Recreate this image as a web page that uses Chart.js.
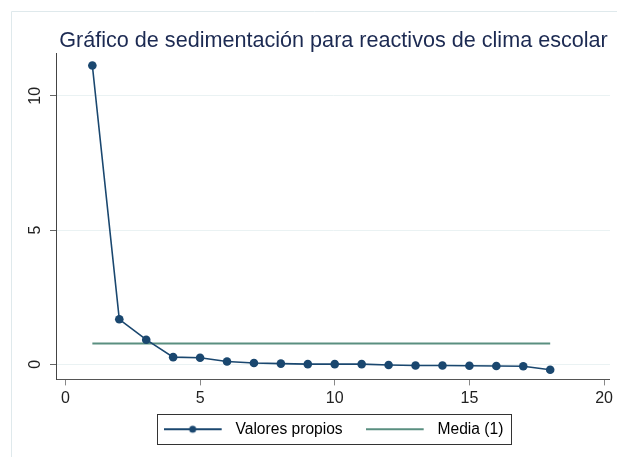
<!DOCTYPE html>
<html>
<head>
<meta charset="utf-8">
<script src="https://cdn.jsdelivr.net/npm/chart.js@4.4.0/dist/chart.umd.min.js"></script>
<style>
  html, body { margin: 0; padding: 0; background: #fff; }
</style>
</head>
<body>
<canvas id="scree" width="617" height="457"></canvas>
<script>
// data
const components = [1, 2, 3, 4, 5, 6, 7, 8, 9, 10, 11, 12, 13, 14, 15, 16, 17, 18];
const eigenvalues = [11.13, 1.68, 0.92, 0.27, 0.25, 0.11, 0.05, 0.03, 0.01, 0.01, 0.01, -0.02, -0.04, -0.04, -0.05, -0.06, -0.07, -0.2];
const meanX = [1, 18];
const meanY = [0.78, 0.78];
const xTicks = [0, 5, 10, 15, 20];
const yTicks = [0, 5, 10];

const NAVY = '#1a476f';
const TEAL = '#5a8f80';
const FONT = "'Liberation Sans', Arial, sans-serif";

// little canvases used as legend symbols
function legend_symbol(color, withDot) {
  const c = document.createElement('canvas');
  c.width = 64;
  c.height = 10;
  const g = c.getContext('2d');
  g.strokeStyle = color;
  g.lineWidth = 2;
  g.beginPath();
  g.moveTo(0, 5);
  g.lineTo(58, 5);
  g.stroke();
  if (withDot) {
    g.fillStyle = color;
    g.beginPath();
    g.arc(29, 5, 3.5, 0, Math.PI * 2);
    g.fill();
  }
  return c;
}
const symEigen = legend_symbol(NAVY, true);
const symMean = legend_symbol(TEAL, false);

const extras = {
  id: 'stataExtras',
  beforeDraw(chart) {
    const ctx = chart.ctx;
    ctx.save();
    // faint outer frame of the graph region
    ctx.strokeStyle = '#dfe9ec';
    ctx.lineWidth = 1;
    ctx.beginPath();
    ctx.moveTo(11.5, 470);
    ctx.lineTo(11.5, 11.5);
    ctx.lineTo(640, 11.5);
    ctx.stroke();
    ctx.restore();
  },
  afterDraw(chart) {
    const ctx = chart.ctx;
    const ys = chart.scales.y;
    ctx.save();
    // rotated y tick labels
    ctx.fillStyle = '#222';
    ctx.font = '16px ' + FONT;
    ctx.textAlign = 'center';
    ctx.textBaseline = 'middle';
    ys.ticks.forEach(t => {
      const py = ys.getPixelForValue(t.value);
      ctx.save();
      ctx.translate(36, py);
      ctx.rotate(-Math.PI / 2);
      ctx.fillText(String(t.value), 0, 0);
      ctx.restore();
    });
    // legend frame
    const boxes = chart.legend.legendHitBoxes;
    if (boxes && boxes.length) {
      const l = Math.min(...boxes.map(b => b.left)) - 7;
      const r = Math.max(...boxes.map(b => b.left + b.width)) + 7;
      const t = Math.min(...boxes.map(b => b.top)) - 7;
      const b = Math.max(...boxes.map(b => b.top + b.height)) + 7;
      ctx.strokeStyle = '#333';
      ctx.lineWidth = 1;
      ctx.strokeRect(Math.round(l) + 0.5, Math.round(t) + 0.5, Math.round(r - l), Math.round(b - t));
    }
    ctx.restore();
  }
};

new Chart(document.getElementById('scree'), {
  type: 'line',
  data: {
    datasets: [{
      label: 'Valores propios',
      data: components.map((c, i) => ({ x: c, y: eigenvalues[i] })),
      borderColor: NAVY,
      backgroundColor: NAVY,
      borderWidth: 1.6,
      pointRadius: 4.3,
      pointBackgroundColor: NAVY,
      pointBorderWidth: 0,
      pointStyle: 'circle',
      tension: 0
    }, {
      label: 'Media (1)',
      data: meanX.map((x, i) => ({ x: x, y: meanY[i] })),
      borderColor: TEAL,
      backgroundColor: TEAL,
      borderWidth: 2,
      pointRadius: 0,
      tension: 0
    }]
  },
  options: {
    responsive: false,
    animation: false,
    layout: { padding: { left: 50, right: 0, top: 0, bottom: 10 } },
    plugins: {
      title: {
        display: true,
        text: 'Gráfico de sedimentación para reactivos de clima escolar',
        color: '#1c2a52',
        font: { family: FONT, size: 21.6, weight: 'normal' },
        padding: { top: 28, bottom: 0 }
      },
      legend: {
        position: 'bottom',
        labels: {
          color: '#111',
          font: { family: FONT, size: 15.6 },
          usePointStyle: true,
          pointStyleWidth: 64,
          boxHeight: 16,
          padding: 10,
          generateLabels: (chart) => chart.data.datasets.map((ds, i) => ({
            // trailing spaces widen the gap between the two keys
            text: i === 0 ? ds.label + '   ' : ds.label,
            datasetIndex: i,
            pointStyle: i === 0 ? symEigen : symMean,
            fillStyle: ds.borderColor,
            strokeStyle: ds.borderColor,
            lineWidth: 0,
            hidden: false
          }))
        }
      },
      tooltip: { enabled: false }
    },
    scales: {
      x: {
        type: 'linear',
        min: -0.35,
        max: 20.22,
        afterBuildTicks: (s) => { s.ticks = xTicks.map(v => ({ value: v })); },
        afterFit: (s) => { s.height = 32; },
        ticks: { color: '#222', font: { family: FONT, size: 16 }, padding: 4, maxRotation: 0 },
        grid: { drawOnChartArea: false, drawTicks: true, tickLength: 6, tickColor: '#888' },
        border: { color: '#555', width: 1 }
      },
      y: {
        type: 'linear',
        min: -0.558,
        max: 11.56,
        afterBuildTicks: (s) => { s.ticks = yTicks.map(v => ({ value: v })); },
        ticks: { display: false },
        grid: { color: '#eaf2f3', lineWidth: 1, drawTicks: true, tickLength: 6, tickColor: '#666' },
        border: { color: '#444', width: 1 }
      }
    }
  },
  plugins: [extras]
});
</script>
</body>
</html>
